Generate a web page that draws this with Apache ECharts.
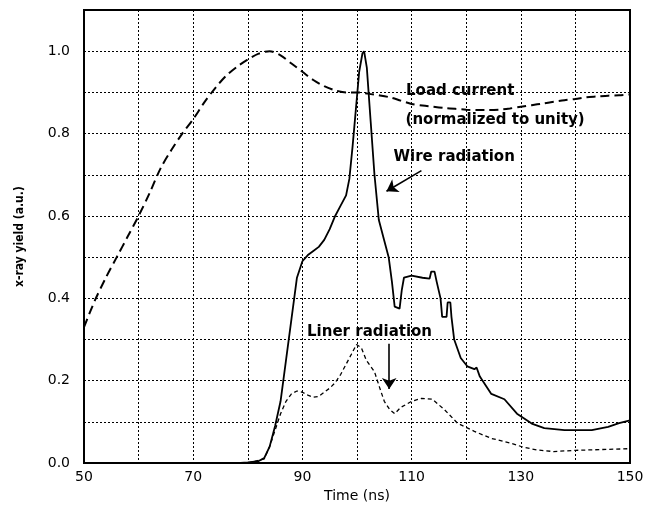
<!DOCTYPE html>
<html>
<head>
<meta charset="utf-8">
<script src="https://cdn.jsdelivr.net/npm/echarts@6/dist/echarts.min.js"></script>
<style>
  html, body { margin: 0; padding: 0; background: #fff; }
  #chart { width: 655px; height: 508px; }
</style>
</head>
<body>
<div id="chart"></div>
<script>
// Load current (normalized to unity): [time ns, value]
const loadCurrent = [
  [50,0.33],[52,0.395],[54,0.45],[56,0.50],[58,0.55],[60,0.60],[62,0.655],[64,0.715],
  [66,0.76],[68,0.80],[70,0.835],[72,0.875],[74,0.91],[76,0.94],[78,0.962],[80,0.98],
  [82,0.994],[84,1.0],[86,0.99],[88,0.97],[90,0.95],[92,0.93],[94,0.915],[96,0.905],
  [98,0.90],[100,0.90],[102,0.897],[104,0.893],[106,0.888],[108,0.88],[110,0.872],
  [112,0.868],[114,0.865],[116,0.862],[118,0.86],[120,0.858],[122,0.857],[124,0.857],
  [126,0.858],[128,0.861],[130,0.865],[132,0.869],[134,0.873],[136,0.877],[138,0.881],
  [140,0.884],[142,0.888],[144,0.89],[146,0.892],[148,0.893],[150,0.895]
];

// Wire radiation
const wireRadiation = [
  [50,0],[78,0],[80,0.002],[82,0.005],[83,0.012],[84,0.04],[85,0.09],[86,0.15],[87,0.25],
  [88,0.35],[89,0.45],[90,0.49],[91,0.505],[92,0.515],[93,0.525],[94,0.542],[95,0.568],
  [96,0.60],[97,0.625],[98,0.65],[98.6,0.69],[99.2,0.77],[99.8,0.86],[100.4,0.95],
  [101,0.995],[101.3,1.0],[101.8,0.96],[102.5,0.83],[103.2,0.70],[104,0.59],[105,0.54],
  [105.8,0.50],[106.4,0.44],[106.9,0.38],[107.8,0.375],[108.2,0.42],[108.6,0.45],
  [110,0.455],[112,0.45],[113.3,0.448],[113.6,0.465],[114.2,0.465],[114.6,0.44],
  [115.3,0.40],[115.6,0.355],[116.4,0.355],[116.6,0.39],[117.1,0.39],[117.3,0.355],
  [117.8,0.30],[119,0.255],[120.2,0.235],[121.5,0.228],[121.9,0.232],[122.5,0.21],
  [124.6,0.168],[127,0.155],[129.3,0.12],[132,0.096],[134.3,0.085],[138,0.08],
  [143,0.08],[146,0.088],[148,0.097],[150,0.104]
];

// Liner radiation
const linerRadiation = [
  [80,0],[83,0.01],[84,0.04],[85,0.08],[86,0.12],[87,0.15],[88,0.168],[89,0.175],
  [90,0.172],[91,0.165],[92,0.16],[93,0.162],[94,0.172],[95,0.182],[96,0.195],
  [97,0.215],[98,0.24],[99,0.265],[99.9,0.288],[100.8,0.28],[101.7,0.25],[103.2,0.222],
  [104.1,0.185],[105,0.15],[106,0.13],[106.9,0.12],[108,0.135],[110,0.15],[111.8,0.157],
  [113.8,0.155],[116,0.13],[118.4,0.097],[121.5,0.077],[124.6,0.06],[128.3,0.048],
  [130.6,0.038],[133,0.032],[136,0.028],[140,0.031],[145,0.033],[150,0.035]
];

// Text annotations: [time, value, text]
const notes = [
  [118.9, 0.902, 'Load current'],
  [125.3, 0.833, '(normalized to unity)'],
  [117.8, 0.744, 'Wire radiation'],
  [102.3, 0.318, 'Liner radiation']
];

// Pointer arrows: [fromTime, fromValue, toTime, toValue]
const pointers = [
  [111.8, 0.71, 105.4, 0.66],
  [105.9, 0.29, 105.9, 0.18]
];

const xMin = 50, xMax = 150, xStep = 10;
const yMin = 0, yMax = 1.1, yStep = 0.1;

const noteFont = {
  fontFamily: 'DejaVu Sans', fontWeight: 'bold', fontSize: 15, color: '#000'
};
const gridLine = { color: '#000', type: [2, 2], width: 1 };

const chart = echarts.init(document.getElementById('chart'), null, { renderer: 'canvas' });

chart.setOption({
  animation: false,
  backgroundColor: '#fff',
  grid: {
    left: 84, right: 25, top: 10, bottom: 38,
    show: true, borderColor: '#000', borderWidth: 2, backgroundColor: 'transparent'
  },
  xAxis: {
    type: 'value', min: xMin, max: xMax, interval: xStep,
    name: 'Time (ns)', nameLocation: 'middle', nameGap: 25,
    nameTextStyle: { fontFamily: 'DejaVu Sans', fontSize: 14, color: '#000' },
    axisLine: { show: true, lineStyle: { color: '#000', width: 2 } },
    axisTick: { show: false },
    axisLabel: {
      margin: 7, fontFamily: 'DejaVu Sans', fontSize: 14, color: '#000',
      formatter: v => (Math.round(v - xMin) % 20 === 0 ? String(v) : '')
    },
    splitLine: { show: true, lineStyle: gridLine }
  },
  yAxis: {
    type: 'value', min: yMin, max: yMax, interval: yStep,
    name: 'x-ray yield (a.u.)', nameLocation: 'middle', nameGap: 58, nameRotate: 90,
    nameTextStyle: {
      fontFamily: "'DejaVu Sans Condensed', 'Liberation Sans', sans-serif",
      fontWeight: 'bold', fontSize: 12, color: '#000'
    },
    axisLine: { show: true, lineStyle: { color: '#000', width: 2 } },
    axisTick: { show: false },
    axisLabel: {
      margin: 14, fontFamily: 'DejaVu Sans', fontSize: 14, color: '#000',
      formatter: v => (Math.round(v * 10) % 2 === 0 ? v.toFixed(1) : '')
    },
    splitLine: { show: true, lineStyle: gridLine }
  },
  series: [
    {
      name: 'Load current', type: 'line', data: loadCurrent, showSymbol: false,
      smooth: 0.3,
      lineStyle: { color: '#000', width: 2, type: [9, 5] },
      z: 3
    },
    {
      name: 'Wire radiation', type: 'line', data: wireRadiation, showSymbol: false,
      lineStyle: { color: '#000', width: 1.8, type: 'solid' },
      z: 4,
      markLine: {
        silent: true, symbol: ['none', 'arrow'], symbolSize: 11,
        label: { show: false },
        lineStyle: { color: '#000', width: 1.6, type: 'solid' },
        data: pointers.map(p => [{ coord: [p[0], p[1]] }, { coord: [p[2], p[3]] }])
      },
      markPoint: {
        silent: true, symbol: 'circle', symbolSize: 0,
        data: notes.map(n => ({
          coord: [n[0], n[1]],
          label: Object.assign({ show: true, position: 'inside', formatter: n[2] }, noteFont)
        }))
      }
    },
    {
      name: 'Liner radiation', type: 'line', data: linerRadiation, showSymbol: false,
      lineStyle: { color: '#000', width: 1.3, type: [4, 3] },
      z: 3
    }
  ]
});
</script>
</body>
</html>
